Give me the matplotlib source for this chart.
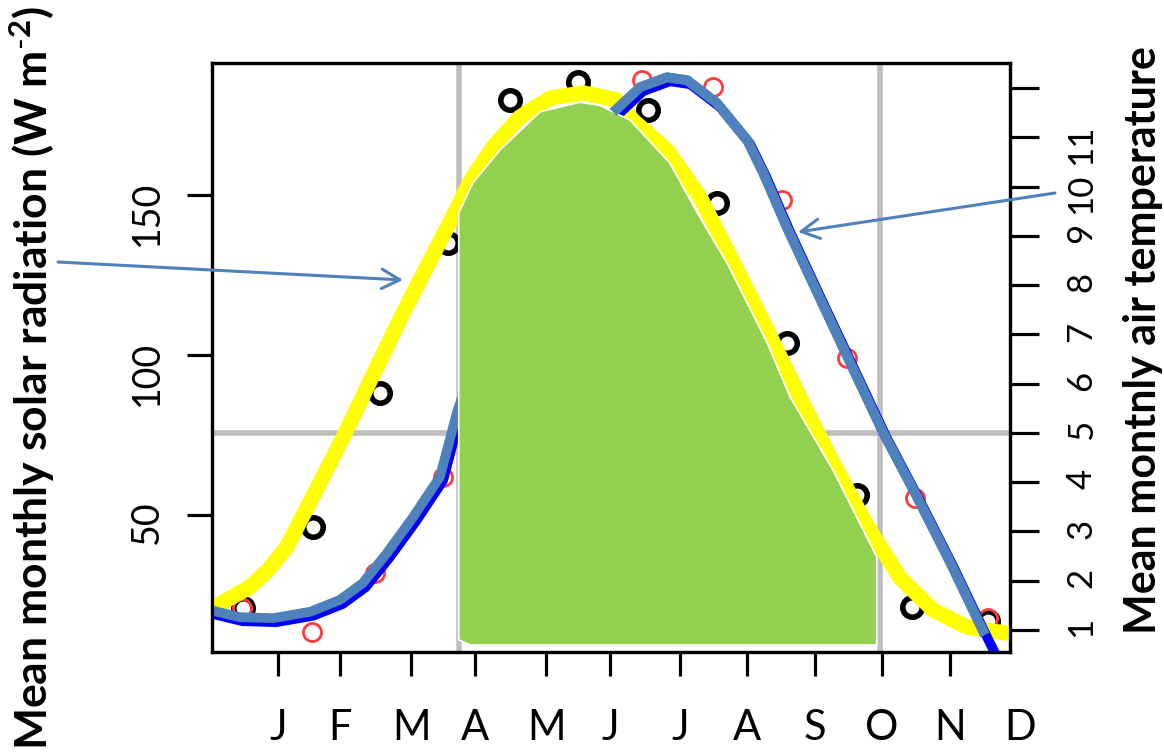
import matplotlib
matplotlib.use('Agg')
import matplotlib.pyplot as plt
from matplotlib.lines import Line2D
from matplotlib.patches import Polygon
import matplotlib.transforms as mtransforms

plt.rcParams['font.family'] = ['Lato', 'DejaVu Sans']
plt.rcParams['mathtext.fontset'] = 'custom'
plt.rcParams['mathtext.rm'] = 'Lato'
plt.rcParams['mathtext.bf'] = 'Lato:bold'
plt.rcParams['mathtext.default'] = 'bf'

# ---- data ----
month_labels = ['J', 'F', 'M', 'A', 'M', 'J', 'J', 'A', 'S', 'O', 'N', 'D']
month_pos = [1.0, 1.92, 2.98, 3.93, 4.99, 5.94, 6.98, 7.98, 8.99, 9.99, 11.0, 12.04]

# observed mean monthly solar radiation (W m-2), left axis
rad_x = [0.48, 1.52, 2.52, 3.53, 4.45, 5.46, 6.51, 7.53, 8.57, 9.62, 10.43, 11.57]
rad_obs = [21.0, 46.3, 88.1, 135.0, 179.7, 185.3, 176.6, 147.5, 103.8, 56.3, 21.3, 17.0]

# observed mean monthly air temperature, right axis
temp_x = [0.46, 1.51, 2.44, 3.46, 4.45, 5.45, 6.42, 7.47, 8.50, 9.47, 10.48, 11.57]
temp_obs = [1.45, 0.96, 2.16, 4.10, 8.3, 11.0, 12.16, 12.02, 9.73, 6.52, 3.68, 1.24]

# smooth fit of solar radiation (yellow)
rad_fit_x = [0.06, 0.58, 0.86, 1.13, 1.56, 2.00, 2.43, 2.86, 3.25, 3.63, 3.87, 4.20,
             4.60, 5.05, 5.54, 6.04, 6.28, 6.79, 7.28, 7.77, 8.28, 8.77, 9.26, 9.76,
             10.26, 10.75, 11.25, 11.74, 11.90]
rad_fit = [21.3, 27.5, 33.0, 40.0, 57.5, 75.6, 94.5, 113.1, 129.0, 144.4, 154.7, 165.0,
           174.4, 180.3, 181.9, 179.7, 173.4, 164.0, 149.4, 129.1, 107.8, 86.6, 66.3,
           46.9, 30.3, 20.3, 15.0, 13.4, 13.0]

# smooth fit of air temperature (blue)
temp_fit_x = [0.0, 0.43, 0.93, 1.48, 1.92, 2.26, 2.62, 3.01, 3.41, 3.66, 4.2, 4.7, 5.3,
              5.99, 6.39, 6.79, 7.09, 7.53, 7.98, 8.22, 8.57, 9.02, 9.51, 10.0, 10.51,
              11.0, 11.52]
temp_fit = [1.40, 1.26, 1.24, 1.37, 1.61, 1.95, 2.56, 3.29, 4.11, 5.40, 7.6, 9.3, 10.6,
            11.51, 12.02, 12.22, 12.16, 11.70, 10.95, 10.28, 9.18, 7.86, 6.44, 5.02, 3.70,
            2.38, 0.90]
blue_end_x = [11.72]
blue_end = [0.35]

# green growing-season area (left axis units)
green_x = [3.69, 3.90, 4.30, 4.90, 5.49, 5.79, 6.24, 6.83, 7.24, 7.68, 8.28, 8.62, 9.26,
           9.91, 9.91, 3.86, 3.69]
green_v = [144.4, 153.8, 164.0, 176.0, 179.0, 178.0, 173.4, 160.0, 144.4, 128.8, 103.8,
           86.9, 64.0, 36.9, 9.4, 9.4, 11.0]

grid_x = [3.69, 9.96]
grid_temp = 5

left_ticks = [50, 100, 150]
right_ticks = [1, 2, 3, 4, 5, 6, 7, 8, 9, 10, 11, 12]
right_labels = ['1', '2', '3', '4', '5', '6', '7', '8', '9', '10', '11', '']

# ---- figure ----
W, H = 1164, 756
fig = plt.figure(figsize=(W / 100, H / 100), dpi=100)
ax = fig.add_axes([212 / W, (H - 652) / H, (1010 - 212) / W, (652 - 63) / H])
ax2 = ax.twinx()

ax.set_xlim(0.018, 11.893)
ax.set_ylim(7.2, 191.25)
ax2.set_ylim(0.553, 12.51)
ax.set_autoscale_on(False)
ax2.set_autoscale_on(False)

tT = ax2.transData  # temperature coords, artists drawn in ax for z-order control

GREY = '#BEBEBE'
STEEL = '#4F81BD'

for gx in grid_x:
    ax.axvline(gx, color=GREY, lw=4, zorder=1)
ax.add_line(Line2D([0, 1], [grid_temp, grid_temp], color=GREY, lw=4, zorder=1,
                   transform=mtransforms.blended_transform_factory(ax.transAxes, tT)))

# observed points
ax.plot(rad_x, rad_obs, 'o', ms=14, mfc='none', mec='black', mew=4, zorder=2)
ax.plot(temp_x, temp_obs, 'o', ms=13, mfc='none', mec='#FF3B3B', mew=2, zorder=2,
        transform=tT)

# yellow fit
ax.plot(rad_fit_x, rad_fit, color='#FFFF00', lw=11, solid_capstyle='butt',
        solid_joinstyle='round', zorder=3)

# blue fit (slightly offset, under steel blue)
blue_tr = tT + mtransforms.Affine2D().translate(3, -4)
ax.plot(temp_fit_x + blue_end_x, temp_fit + blue_end, color='#0000FF', lw=7,
        solid_capstyle='butt', solid_joinstyle='round', transform=blue_tr, zorder=4)
ax.plot(temp_fit_x, temp_fit, color=STEEL, lw=7, solid_capstyle='butt',
        solid_joinstyle='round', transform=tT, zorder=5)

# green polygon
ax.add_patch(Polygon(list(zip(green_x, green_v)), closed=True, facecolor='#92D050',
                     edgecolor='white', lw=1.2, zorder=6))

# part of steel blue curve above the green area
ax.plot(temp_fit_x[13:], temp_fit[13:], color=STEEL, lw=7, solid_capstyle='butt',
        solid_joinstyle='round', transform=tT, zorder=7)

# ---- axes styling ----
for a in (ax, ax2):
    for s in a.spines.values():
        s.set_linewidth(2.3)

ax.set_yticks(left_ticks)
ax.set_yticklabels([str(t) for t in left_ticks])
ax.tick_params(axis='y', labelsize=27, labelrotation=90, length=18, width=2.3, pad=16)
ax.set_xticks(month_pos[:-1])
ax.tick_params(axis='x', length=17, width=2.3, labelbottom=False)

ax2.set_yticks(right_ticks)
ax2.set_yticklabels(right_labels)
ax2.tick_params(axis='y', labelsize=25, labelrotation=90, length=21, width=2.3, pad=19)

for p, lab in zip(month_pos, month_labels):
    ax.text(p, -0.1494, lab, transform=ax.get_xaxis_transform(), ha='center',
            va='baseline', fontsize=30, clip_on=False)

fig.text(32 / W, 0.5, r'Mean monthly solar radiation (W m$^{\text{-}2}$)', rotation=90,
         ha='center', va='center', fontsize=32, fontweight='bold')
fig.text(1143 / W, 1 - 340 / H, 'Mean montnly air temperature', rotation=90,
         ha='center', va='center', fontsize=31, fontweight='bold')

# arrows
aprops = dict(arrowstyle='->,head_length=1.3,head_width=0.7', color=STEEL, lw=2.2,
              shrinkA=0, shrinkB=0)
ax2.annotate('', xy=(403 / W, 1 - 280 / H), xytext=(58 / W, 1 - 262 / H),
             xycoords='figure fraction', textcoords='figure fraction',
             arrowprops=aprops, annotation_clip=False, zorder=10)
ax2.annotate('', xy=(798 / W, 1 - 232 / H), xytext=(1055 / W, 1 - 193 / H),
             xycoords='figure fraction', textcoords='figure fraction',
             arrowprops=aprops, annotation_clip=False, zorder=10)

fig.savefig('out.png', dpi=100)
